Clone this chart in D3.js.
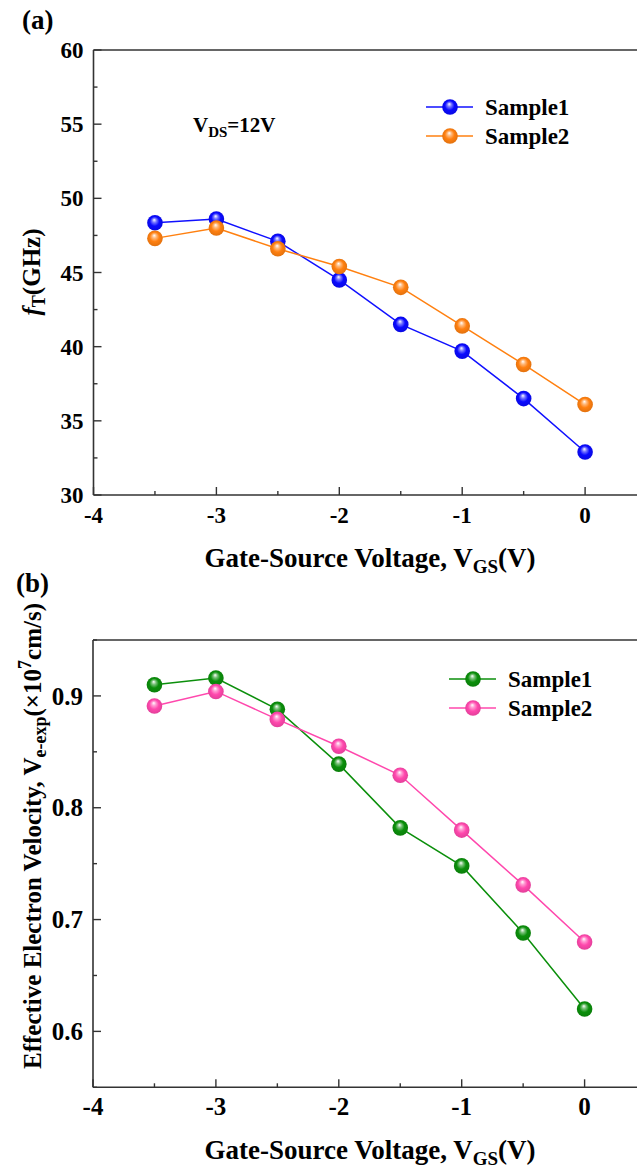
<!DOCTYPE html>
<html>
<head>
<meta charset="utf-8">
<script src="https://d3js.org/d3.v7.min.js"></script>
<style>
  body { margin: 0; background: #fff; }
  svg { display: block; font-family: "Liberation Serif", "Times New Roman", serif; font-weight: bold; }
</style>
</head>
<body>
<svg id="chart" width="637" height="1168"></svg>
<script>
// gate-source voltages (V)
const vgs = [-3.5, -3, -2.5, -2, -1.5, -1, -0.5, 0];

// (a) cut-off frequency fT (GHz)
const ftSample1 = [48.35, 48.6, 47.1, 44.5, 41.5, 39.7, 36.5, 32.9];
const ftSample2 = [47.3, 48.0, 46.6, 45.4, 44.0, 41.4, 38.8, 36.1];

// (b) effective electron velocity (x1e7 cm/s)
const velSample1 = [0.910, 0.916, 0.888, 0.839, 0.782, 0.748, 0.688, 0.620];
const velSample2 = [0.891, 0.904, 0.879, 0.855, 0.829, 0.780, 0.731, 0.680];

const xTicks = [-4, -3, -2, -1, 0];
const ftTicks = [30, 35, 40, 45, 50, 55, 60];
const velTicks = [0.6, 0.7, 0.8, 0.9];

const svg = d3.select("#chart");
const defs = svg.append("defs");
const axisColor = "#333";

// shiny ball marker gradient
function ballGradient(id, color) {
  let g = defs.append("radialGradient")
    .attr("id", id)
    .attr("cx", "0.5").attr("cy", "0.5").attr("r", "0.55")
    .attr("fx", "0.45").attr("fy", "0.3");
  g.append("stop").attr("offset", "0%").attr("stop-color", "#fff");
  g.append("stop").attr("offset", "25%").attr("stop-color", d3.interpolateRgb("#fff", color)(0.55));
  g.append("stop").attr("offset", "55%").attr("stop-color", color);
  g.append("stop").attr("offset", "100%").attr("stop-color", d3.color(color).darker(0.4));
}

function drawPanel(opt) {
  const g = svg.append("g");
  const x = d3.scaleLinear().domain([-4, 0.5]).range([opt.left, opt.left + 122.9 * 4.5]);
  const y = d3.scaleLinear().domain(opt.yDomain).range([opt.bottom, opt.top]);

  // frame: top line + axes
  g.append("line")
    .attr("x1", opt.left).attr("x2", 637)
    .attr("y1", opt.top).attr("y2", opt.top)
    .attr("stroke", axisColor).attr("stroke-width", 1.6);

  // x axis
  let xMinor = d3.range(-4, 0.51, 0.5);
  g.selectAll(".xtick").data(xMinor).join("line")
    .attr("x1", d => x(d)).attr("x2", d => x(d))
    .attr("y1", opt.bottom).attr("y2", d => opt.bottom - (Number.isInteger(d) ? 8 : 4))
    .attr("stroke", axisColor).attr("stroke-width", 1.4);
  g.append("line")
    .attr("x1", opt.left).attr("x2", 637)
    .attr("y1", opt.bottom).attr("y2", opt.bottom)
    .attr("stroke", axisColor).attr("stroke-width", 1.6);
  g.selectAll(".xlab").data(xTicks).join("text")
    .attr("x", d => x(d)).attr("y", opt.bottom + 28)
    .attr("text-anchor", "middle")
    .attr("font-size", opt.tickSize)
    .text(d => d);

  // y axis
  let yMinor = d3.range(opt.yDomain[0], opt.yDomain[1] + 1e-9, opt.minorStep);
  g.selectAll(".ytick").data(yMinor).join("line")
    .attr("x1", opt.left).attr("x2", (d, i) => opt.left + (opt.isMajor(d) ? 8 : 4))
    .attr("y1", d => y(d)).attr("y2", d => y(d))
    .attr("stroke", axisColor).attr("stroke-width", 1.4);
  g.append("line")
    .attr("x1", opt.left).attr("x2", opt.left)
    .attr("y1", opt.top).attr("y2", opt.bottom)
    .attr("stroke", axisColor).attr("stroke-width", 1.6);
  g.selectAll(".ylab").data(opt.yTicks).join("text")
    .attr("x", opt.left - 10).attr("y", d => y(d))
    .attr("dy", "0.35em")
    .attr("text-anchor", "end")
    .attr("font-size", opt.tickSize)
    .text(opt.fmt);

  // series
  const line = d3.line().x(d => x(d[0])).y(d => y(d[1]));
  opt.series.forEach(s => {
    let pts = vgs.map((v, i) => [v, s.values[i]]);
    g.append("path").datum(pts)
      .attr("d", line)
      .attr("fill", "none")
      .attr("stroke", s.color)
      .attr("stroke-width", 1.5);
  });
  opt.series.forEach(s => {
    let pts = vgs.map((v, i) => [v, s.values[i]]);
    g.selectAll(null).data(pts).join("circle")
      .attr("cx", d => x(d[0])).attr("cy", d => y(d[1]))
      .attr("r", 7.8)
      .attr("fill", "url(#" + s.grad + ")");
  });

  // legend
  opt.series.forEach((s, i) => {
    let ly = opt.legendY + i * 29;
    g.append("line")
      .attr("x1", opt.legendX).attr("x2", opt.legendX + 47)
      .attr("y1", ly).attr("y2", ly)
      .attr("stroke", s.color).attr("stroke-width", 1.5);
    g.append("circle")
      .attr("cx", opt.legendX + 24).attr("cy", ly).attr("r", 7.8)
      .attr("fill", "url(#" + s.grad + ")");
    g.append("text")
      .attr("x", opt.legendX + 59).attr("y", ly).attr("dy", "0.35em")
      .attr("font-size", 23)
      .text(s.name);
  });

  // x title
  let xt = g.append("text")
    .attr("x", 370).attr("y", opt.bottom + 72)
    .attr("text-anchor", "middle")
    .attr("font-size", 27);
  xt.append("tspan").text("Gate-Source Voltage, V");
  xt.append("tspan").attr("font-size", 19).attr("dy", 6).text("GS");
  xt.append("tspan").attr("dy", -6).text("(V)");

  return { g, x, y };
}

ballGradient("gBlue", "#0a0aff");
ballGradient("gOrange", "#ff8010");
ballGradient("gGreen", "#0b8f0b");
ballGradient("gPink", "#ff48ad");

// ---- panel (a)
const pa = drawPanel({
  left: 93.5, top: 50, bottom: 495,
  yDomain: [30, 60], yTicks: ftTicks, minorStep: 2.5,
  isMajor: d => Math.abs(d % 5) < 1e-6,
  fmt: d => d,
  tickSize: 23,
  legendX: 426, legendY: 107,
  series: [
    { name: "Sample1", values: ftSample1, color: "#1010ff", grad: "gBlue" },
    { name: "Sample2", values: ftSample2, color: "#ff8010", grad: "gOrange" }
  ]
});

svg.append("text").attr("x", 22).attr("y", 29).attr("font-size", 27).text("(a)");

let vds = svg.append("text").attr("x", 193).attr("y", 132).attr("font-size", 21);
vds.append("tspan").text("V");
vds.append("tspan").attr("font-size", 15).attr("dy", 5).text("DS");
vds.append("tspan").attr("dy", -5).text("=12V");

let ya = svg.append("text")
  .attr("transform", "translate(40,272) rotate(-90)")
  .attr("text-anchor", "middle")
  .attr("font-size", 25);
ya.append("tspan").attr("font-style", "italic").text("f");
ya.append("tspan").attr("font-size", 18).attr("dy", 5).text("T");
ya.append("tspan").attr("dy", -5).text("(GHz)");

// ---- panel (b)
const pb = drawPanel({
  left: 93, top: 640, bottom: 1087.3,
  yDomain: [0.55, 0.95], yTicks: velTicks, minorStep: 0.05,
  isMajor: d => Math.abs(Math.round(d * 10) - d * 10) < 1e-6,
  fmt: d => d.toFixed(1),
  tickSize: 25,
  legendX: 449, legendY: 679,
  series: [
    { name: "Sample1", values: velSample1, color: "#0b8f0b", grad: "gGreen" },
    { name: "Sample2", values: velSample2, color: "#ff48ad", grad: "gPink" }
  ]
});

svg.append("text").attr("x", 16).attr("y", 592).attr("font-size", 27).text("(b)");

let yb = svg.append("text")
  .attr("transform", "translate(41,836) rotate(-90)")
  .attr("text-anchor", "middle")
  .attr("font-size", 25);
yb.append("tspan").text("Effective Electron Velocity, V");
yb.append("tspan").attr("font-size", 18).attr("dy", 5).text("e-exp");
yb.append("tspan").attr("dy", -5).text("(\u00d710");
yb.append("tspan").attr("font-size", 18).attr("dy", -10).text("7");
yb.append("tspan").attr("dy", 10).text("cm/s)");
</script>
</body>
</html>
